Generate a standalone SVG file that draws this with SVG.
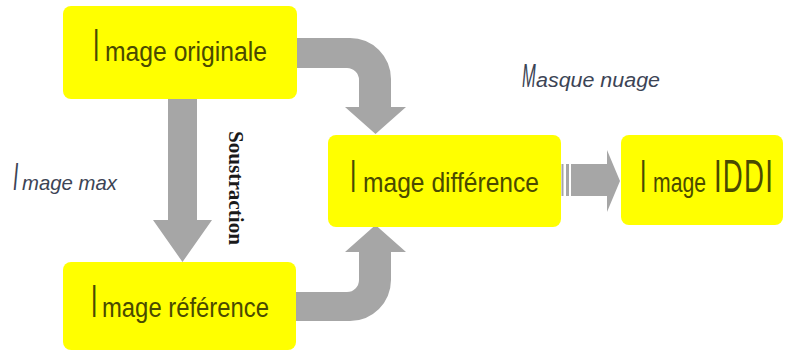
<svg xmlns="http://www.w3.org/2000/svg" width="789" height="352" viewBox="0 0 789 352">
<style>
.box{fill:#ffff00}
.arr{fill:#a6a6a6}
.t{font-family:"Liberation Sans",Arial,sans-serif;fill:#4a4a00}
.lbl{font-family:"Liberation Sans",Arial,sans-serif;font-style:italic;fill:#3c4455}
.sub{font-family:"Liberation Serif","Times New Roman",serif;font-weight:bold;fill:#1a1a1a}
</style>
<rect width="789" height="352" fill="#ffffff"/>
<g id="connectors">
<path class="arr" d="M296,38 L350,38 A41,41 0 0 1 391,79 L391,107 L406,107 L375.5,134 L345,107 L359,107 L359,80 A12,12 0 0 0 347,68 L296,68 Z"/>
<path class="arr" d="M296,292 L347,292 A12,12 0 0 0 359,280 L359,252 L345,252 L375.5,225 L406,252 L391,252 L391,280 A41,41 0 0 1 350,321 L296,321 Z"/>
<path class="arr" d="M168,99 L197,99 L197,220 L212,220 L182.5,262 L153,220 L168,220 Z"/>
<rect class="arr" x="561.5" y="164" width="2" height="32"/>
<rect class="arr" x="566" y="164" width="3" height="32"/>
<path class="arr" d="M571,164 L607,164 L607,150 L620,181 L607,212 L607,196 L571,196 Z"/>
</g>
<g id="node-originale">
<rect class="box" x="63" y="6" width="234" height="93" rx="8"/>
<text class="t" font-size="46" transform="translate(93,61) scale(0.5,1)">I</text>
<text class="t" x="105" y="61" font-size="27" textLength="162" lengthAdjust="spacingAndGlyphs">mage originale</text>
</g>
<g id="node-reference">
<rect class="box" x="63" y="262" width="233" height="88" rx="8"/>
<text class="t" font-size="46" transform="translate(91,317) scale(0.5,1)">I</text>
<text class="t" x="102" y="317" font-size="27" textLength="167" lengthAdjust="spacingAndGlyphs">mage référence</text>
</g>
<g id="node-difference">
<rect class="box" x="328" y="135" width="233" height="92" rx="8"/>
<text class="t" font-size="46" transform="translate(350,192) scale(0.5,1)">I</text>
<text class="t" x="363" y="192" font-size="27" textLength="176" lengthAdjust="spacingAndGlyphs">mage différence</text>
</g>
<g id="node-iddi">
<rect class="box" x="621" y="135" width="162" height="90" rx="8"/>
<text class="t" font-size="46" transform="translate(640,192) scale(0.5,1)">I</text>
<text class="t" x="653" y="192" font-size="27" textLength="53" lengthAdjust="spacingAndGlyphs">mage</text>
<text class="t" font-size="46" transform="translate(714,192) scale(0.6,1)" textLength="98" lengthAdjust="spacing">IDDI</text>
</g>
<g id="labels">
<text class="lbl" font-size="33" transform="translate(522,87) scale(0.5,1)">M</text>
<text class="lbl" x="536" y="87" font-size="20" textLength="124" lengthAdjust="spacingAndGlyphs">asque nuage</text>
<text class="lbl" font-size="38" transform="translate(13,190) scale(0.5,1)">I</text>
<text class="lbl" x="22" y="190" font-size="21" textLength="95" lengthAdjust="spacingAndGlyphs">mage max</text>
<text class="sub" font-size="22" transform="translate(229,131) rotate(90)" textLength="114" lengthAdjust="spacingAndGlyphs">Soustraction</text>
</g>
</svg>
